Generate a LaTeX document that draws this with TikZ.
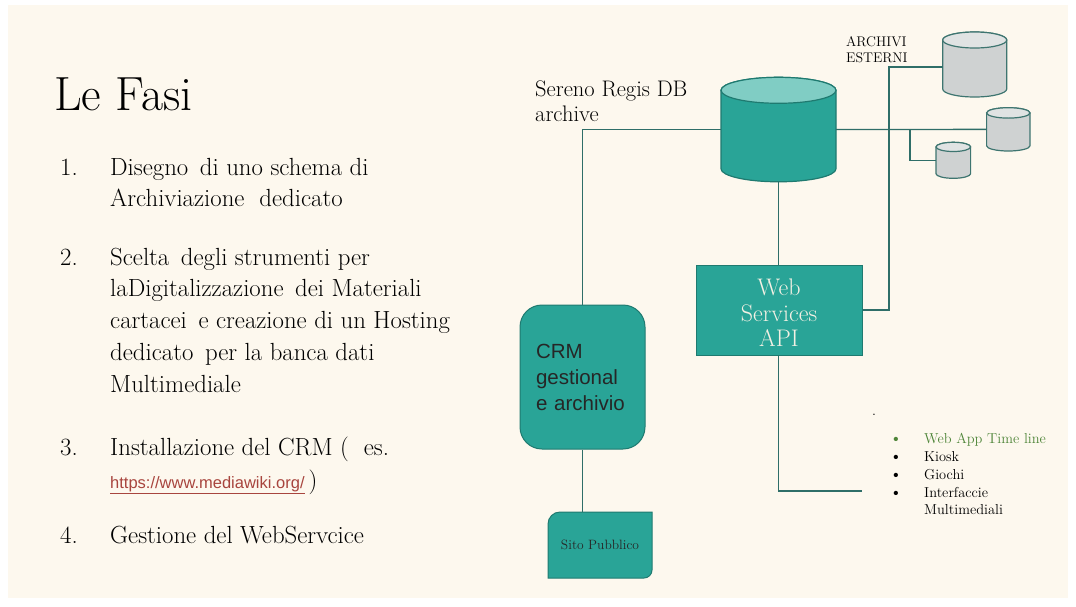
\documentclass[tikz,border=0pt]{standalone}
\usepackage{fontspec}
\newfontfamily\arialf{Liberation Sans}
\usetikzlibrary{calc}
\definecolor{cream}{HTML}{FDF8EE}
\definecolor{tealfill}{HTML}{29A497}
\definecolor{tealtop}{HTML}{80CDC4}
\definecolor{tealline}{HTML}{1F7A70}
\definecolor{grayfill}{HTML}{CFD2D2}
\definecolor{graytop}{HTML}{E0E3E3}
\definecolor{grayline}{HTML}{3E7570}
\definecolor{linec}{HTML}{2F6E68}
\definecolor{webtext}{HTML}{F4F1E4}
\definecolor{greentext}{HTML}{4E8538}
\definecolor{urlc}{HTML}{A8453E}
\newcommand\dbcyl[7]{%
  \pgfmathsetmacro\cylL{#2-#4}\pgfmathsetmacro\cylR{#2+#4}%
  \pgfmathsetmacro\cylT{#3+#6}\pgfmathsetmacro\cylB{#3+#5-#6}%
  \pgfmathsetmacro\cylM{#3+#5/2}%
  \path[#7 body] (\cylL,\cylT) -- (\cylL,\cylB)
     arc[start angle=180,end angle=360,x radius=#4pt,y radius=#6pt]
     -- (\cylR,\cylT)
     arc[start angle=0,end angle=180,x radius=#4pt,y radius=#6pt] -- cycle;
  \path[#7 top] (#2,\cylT) ellipse[x radius=#4pt,y radius=#6pt];
  \node[inner sep=0pt,minimum width=2*#4pt,minimum height=#5pt] (#1) at (#2,\cylM) {};
}
\begin{document}
\begin{tikzpicture}[x=1pt,y=-1pt,
  conn/.style={draw=linec,line width=1.3pt},
  lst/.style={anchor=base west,inner sep=0pt,font=\fontsize{24.8}{24.8}\selectfont},
  bul/.style={anchor=base west,inner sep=0pt,font=\fontsize{14.4}{14.4}\selectfont},
  dotb/.style={anchor=base west,inner sep=0pt,font=\fontsize{19}{19}\selectfont},
  mainc body/.style={fill=tealfill,draw=tealline,line width=1.2pt},
  mainc top/.style={fill=tealtop,draw=tealline,line width=1.2pt},
  grayc body/.style={fill=grayfill,draw=grayline,line width=1.2pt},
  grayc top/.style={fill=graytop,draw=grayline,line width=1.2pt},
  tealbox/.style={fill=tealfill,draw=tealline,line width=1pt}]
\useasboundingbox (0,0) rectangle (1076,606);
\fill[white] (0,0) rectangle (1076,606);
\fill[cream] (8,5) rectangle (1068,598);

% left text
\node[anchor=base west,inner sep=0pt,font=\fontsize{48}{48}\selectfont] (title) at (54,110) {Le Fasi};
\node[lst] (n1) at (60,175) {1.};
\node[lst] (t1a) at (110,175) {Disegno\, di uno schema di};
\node[lst] (t1b) at (110,206.7) {Archiviazione\ \ dedicato};
\node[lst] (n2) at (60,265) {2.};
\node[lst] (t2a) at (110,265) {Scelta\, degli strumenti per};
\node[lst] (t2b) at (110,296.8) {laDigitalizzazione\, dei Materiali};
\node[lst] (t2c) at (110,328.6) {cartacei\, e creazione di un Hosting};
\node[lst] (t2d) at (110,360.4) {dedicato\, per la banca dati};
\node[lst] (t2e) at (110,392.2) {Multimediale};
\node[lst] (n3) at (60,455) {3.};
\node[lst] (t3a) at (110,455) {Installazione del CRM (\ \ es.};
\node[lst] (t3b) at (110,488) {{\arialf\fontsize{16.5}{16.5}\selectfont\color{urlc}\underline{https://www.mediawiki.org/}}\,)};
\node[lst] (n4) at (60,543.3) {4.};
\node[lst] (t4a) at (110,543.3) {Gestione del WebServcice};

% labels
\node[anchor=base west,inner sep=0pt,font=\fontsize{22.5}{22.5}\selectfont] (sr1) at (535,96.5) {Sereno Regis DB};
\node[anchor=base west,inner sep=0pt,font=\fontsize{22.5}{22.5}\selectfont] (sr2) at (535,121) {archive};
\node[anchor=base west,inner sep=0pt,font=\fontsize{14}{14}\selectfont] (ae1) at (846,46) {ARCHIVI};
\node[anchor=base west,inner sep=0pt,font=\fontsize{14}{14}\selectfont] (ae2) at (846,62) {ESTERNI};

% cylinders
\dbcyl{main}{778.5}{77.3}{57.5}{104.5}{13}{mainc}
\dbcyl{ext1}{974.7}{32}{32}{65}{8}{grayc}
\dbcyl{ext2}{1008.3}{107.7}{21.7}{43.3}{5.2}{grayc}
\dbcyl{ext3}{953.3}{142.3}{17.3}{36}{4.6}{grayc}

% boxes
\node[tealbox,minimum width=166pt,minimum height=90pt,inner sep=0pt] (web) at (779,310) {};
\node[align=center,inner sep=0pt,text=webtext,font=\fontsize{24}{25.5}\selectfont] (webtxt) at (779,313)
      {Web\\Services\\API};
\node[tealbox,rounded corners=22pt,minimum width=125pt,minimum height=144pt,inner xsep=16pt,
      text width=93pt,align=left,text=black!85,font=\arialf\fontsize{20.5}{26}\selectfont] (crm) at (582.5,377)
      {CRM\\gestional\\e archivio};
\path[tealbox] (548,578) -- (548,524) arc[start angle=180,end angle=90,radius=12pt]
   -- (652,512) -- (652,570) arc[start angle=0,end angle=-90,radius=8pt] -- cycle;
\node[inner sep=0pt,minimum width=104pt,minimum height=66pt,text=black!85,
      font=\fontsize{13.5}{13.5}\selectfont] (sito) at (600,545) {Sito Pubblico};

% bullet list
\node[bul] (dot) at (872,415) {.};
\node[dotb,text=greentext] (b1) at (889,444) {\textbullet};
\node[bul,text=greentext] (l1) at (924,443.3) {Web App Time line};
\node[dotb] (b2) at (889,462) {\textbullet};
\node[bul] (l2) at (924,461.2) {Kiosk};
\node[dotb] (b3) at (889,480) {\textbullet};
\node[bul] (l3) at (924,479.1) {Giochi};
\node[dotb] (b4) at (889,498) {\textbullet};
\node[bul] (l4) at (924,497) {Interfaccie};
\node[bul] (l5) at (924,514.9) {Multimediali};

% connectors
\coordinate (wend) at (862,491);
\coordinate (br) at (910,130);
\coordinate (vx) at (889,67);
\draw[conn] (main.west) -| (crm.north);
\draw[conn] (main.south) -- (main.south |- web.north);
\draw[conn] (web.south -| main.south) |- (wend);
\draw[conn] (crm.south) -- (crm.south |- sito.north);
\draw[conn] (main.east) -- (ext2.west);
\draw[conn] (br) |- (ext3.west);
\draw[conn] (web.east) -| (vx) -- (vx -| ext1.west);
\end{tikzpicture}
\end{document}
